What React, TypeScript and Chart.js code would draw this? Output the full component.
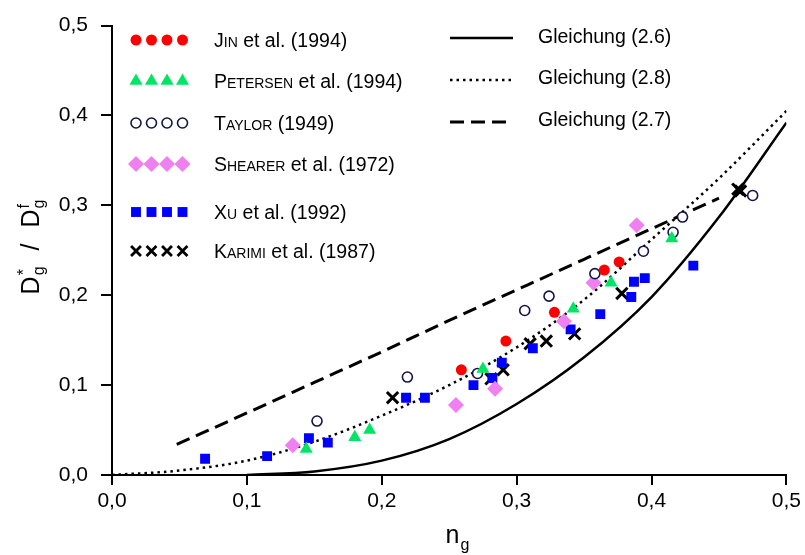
import React, { useEffect, useRef } from 'react';
import { Chart, registerables } from 'chart.js';

Chart.register(...registerables);

const FONT = '"Liberation Sans", Arial, Helvetica, sans-serif';

// ---- tick labels ----
const xTickLabels = ['0,0', '0,1', '0,2', '0,3', '0,4', '0,5'];
const yTickLabels = ['0,0', '0,1', '0,2', '0,3', '0,4', '0,5'];

// ---- legend texts ----
const seriesLabels = [
  'Jin et al. (1994)',
  'Petersen et al. (1994)',
  'Taylor (1949)',
  'Shearer et al. (1972)',
  'Xu et al. (1992)',
  'Karimi et al. (1987)',
];
const lineLabels = ['Gleichung (2.6)', 'Gleichung (2.8)', 'Gleichung (2.7)'];

// ---- measured data ----
const jinX = [0.259, 0.292, 0.328, 0.365, 0.376];
const jinY = [0.117, 0.149, 0.181, 0.228, 0.237];

const petersenX = [0.144, 0.18, 0.191, 0.275, 0.342, 0.37, 0.415];
const petersenY = [0.029, 0.042, 0.05, 0.118, 0.185, 0.214, 0.263];

const taylorX = [0.152, 0.219, 0.271, 0.306, 0.324, 0.358, 0.394, 0.416, 0.423, 0.475];
const taylorY = [0.06, 0.109, 0.113, 0.183, 0.199, 0.224, 0.249, 0.27, 0.287, 0.311];

const shearerX = [0.134, 0.255, 0.284, 0.335, 0.357, 0.389];
const shearerY = [0.033, 0.078, 0.096, 0.171, 0.214, 0.278];

const xuX = [0.069, 0.115, 0.146, 0.16, 0.218, 0.232, 0.268, 0.282, 0.289, 0.312, 0.34, 0.362, 0.385, 0.387, 0.395, 0.431];
const xuY = [0.018, 0.021, 0.041, 0.036, 0.086, 0.086, 0.1, 0.108, 0.125, 0.141, 0.162, 0.179, 0.198, 0.215, 0.219, 0.233];

const karimiX = [0.208, 0.281, 0.29, 0.31, 0.322, 0.343, 0.378, 0.464, 0.466];
const karimiY = [0.086, 0.107, 0.117, 0.146, 0.149, 0.157, 0.202, 0.318, 0.316];

// Gleichung (2.6) – solid
const eq26X = [0.1, 0.15, 0.2, 0.25, 0.3, 0.35, 0.4, 0.45, 0.5];
const eq26Y = [0.0, 0.004, 0.016, 0.04, 0.079, 0.131, 0.198, 0.287, 0.392];
// Gleichung (2.8) – dotted
const eq28X = [0.0, 0.05, 0.1, 0.15, 0.2, 0.25, 0.3, 0.35, 0.4, 0.45, 0.5];
const eq28Y = [0.0, 0.005, 0.016, 0.037, 0.066, 0.1, 0.142, 0.195, 0.262, 0.33, 0.405];
// Gleichung (2.7) – dashed
const eq27X = [0.048, 0.1, 0.15, 0.2, 0.25, 0.3, 0.35, 0.4, 0.45];
const eq27Y = [0.034, 0.069, 0.103, 0.137, 0.172, 0.206, 0.24, 0.274, 0.308];

const toPts = (xs: number[], ys: number[]) => xs.map((x, i) => ({ x, y: ys[i] }));

type MarkerStyle = { pointStyle: string; radius: number; fill: string; stroke: string; width: number };

const markerStyles: MarkerStyle[] = [
  { pointStyle: 'circle', radius: 5.5, fill: '#ff0000', stroke: '#ff0000', width: 0 },
  { pointStyle: 'triangle', radius: 7.5, fill: '#00e664', stroke: '#00e664', width: 0 },
  { pointStyle: 'circle', radius: 5, fill: '#ffffff', stroke: '#14144a', width: 1.6 },
  { pointStyle: 'rectRot', radius: 8, fill: '#f080f0', stroke: '#f080f0', width: 0 },
  { pointStyle: 'rect', radius: 7, fill: '#0000ff', stroke: '#0000ff', width: 0 },
  { pointStyle: 'crossRot', radius: 8, fill: '#000000', stroke: '#000000', width: 3 },
];

const seriesData = [
  toPts(jinX, jinY),
  toPts(petersenX, petersenY),
  toPts(taylorX, taylorY),
  toPts(shearerX, shearerY),
  toPts(xuX, xuY),
  toPts(karimiX, karimiY),
];

type LineStyle = { dash: number[]; width: number };
const lineStyles: LineStyle[] = [
  { dash: [], width: 2.5 },
  { dash: [2.5, 4], width: 2.5 },
  { dash: [14, 7], width: 3 },
];
const lineData = [toPts(eq26X, eq26Y), toPts(eq28X, eq28Y), toPts(eq27X, eq27Y)];

function drawMarker(ctx: CanvasRenderingContext2D, st: MarkerStyle, x: number, y: number) {
  const r = st.radius;
  ctx.save();
  ctx.fillStyle = st.fill;
  ctx.strokeStyle = st.stroke;
  ctx.lineWidth = st.width;
  ctx.beginPath();
  switch (st.pointStyle) {
    case 'circle':
      ctx.arc(x, y, r, 0, Math.PI * 2);
      break;
    case 'triangle': {
      for (let k = 0; k < 3; k++) {
        const a = (k * 2 * Math.PI) / 3;
        const px = x + Math.sin(a) * r;
        const py = y - Math.cos(a) * r;
        if (k === 0) ctx.moveTo(px, py);
        else ctx.lineTo(px, py);
      }
      ctx.closePath();
      break;
    }
    case 'rectRot':
      ctx.moveTo(x, y - r);
      ctx.lineTo(x + r, y);
      ctx.lineTo(x, y + r);
      ctx.lineTo(x - r, y);
      ctx.closePath();
      break;
    case 'rect': {
      const s = r * Math.SQRT1_2;
      ctx.rect(x - s, y - s, 2 * s, 2 * s);
      break;
    }
    case 'crossRot': {
      const s = r * Math.SQRT1_2;
      ctx.moveTo(x - s, y - s);
      ctx.lineTo(x + s, y + s);
      ctx.moveTo(x - s, y + s);
      ctx.lineTo(x + s, y - s);
      break;
    }
  }
  if (st.pointStyle !== 'crossRot') ctx.fill();
  if (st.width > 0) ctx.stroke();
  ctx.restore();
}

function drawSmallCapsLabel(ctx: CanvasRenderingContext2D, text: string, x: number, y: number, size: number) {
  const sp = text.indexOf(' ');
  const author = sp > 0 ? text.slice(0, sp) : text;
  const rest = sp > 0 ? text.slice(sp) : '';
  ctx.font = `${size}px ${FONT}`;
  ctx.fillText(author[0], x, y);
  x += ctx.measureText(author[0]).width;
  const up = author.slice(1).toUpperCase();
  ctx.font = `${Math.round(size * 0.72)}px ${FONT}`;
  ctx.fillText(up, x, y);
  x += ctx.measureText(up).width;
  ctx.font = `${size}px ${FONT}`;
  ctx.fillText(rest, x, y);
}

const decorPlugin = {
  id: 'decor',
  afterDraw(chart: any) {
    const ctx: CanvasRenderingContext2D = chart.ctx;
    ctx.save();
    ctx.fillStyle = '#000';
    ctx.textBaseline = 'alphabetic';
    ctx.textAlign = 'left';

    // left legend
    const rowY = [40, 81, 123, 164, 212, 251];
    const markerX = [136, 151.5, 167, 182.5];
    seriesLabels.forEach((label, i) => {
      const st = markerStyles[i];
      const legendSt = st.pointStyle === 'crossRot' ? { ...st, radius: 7, width: 2.8 } : st;
      markerX.forEach((mx) => drawMarker(ctx, legendSt, mx, rowY[i]));
      ctx.fillStyle = '#000';
      drawSmallCapsLabel(ctx, label, 214, rowY[i] + 7, 19.5);
    });

    // right legend
    const lineRowY = [38, 80, 122];
    const textRowY = [36, 77, 119];
    lineLabels.forEach((label, i) => {
      const ls = lineStyles[i];
      ctx.save();
      ctx.strokeStyle = '#000';
      ctx.lineWidth = ls.width;
      ctx.setLineDash(ls.dash);
      ctx.beginPath();
      ctx.moveTo(450, lineRowY[i]);
      ctx.lineTo(513, lineRowY[i]);
      ctx.stroke();
      ctx.restore();
      ctx.font = `19.5px ${FONT}`;
      ctx.fillStyle = '#000';
      ctx.fillText(label, 538, textRowY[i] + 7);
    });

    // x axis title n_g
    ctx.font = `25px ${FONT}`;
    const nW = ctx.measureText('n').width;
    ctx.font = `16px ${FONT}`;
    const gW = ctx.measureText('g').width;
    const xs = 457 - (nW + gW) / 2;
    ctx.font = `25px ${FONT}`;
    ctx.fillText('n', xs, 543);
    ctx.font = `16px ${FONT}`;
    ctx.fillText('g', xs + nW + 1, 550);

    // y axis title D*_g / D^f_g (rotated)
    ctx.save();
    ctx.translate(30, 247);
    ctx.rotate(-Math.PI / 2);
    const big = `25px ${FONT}`;
    const small = `16px ${FONT}`;
    ctx.font = big;
    const dW = ctx.measureText('D').width;
    const slW = ctx.measureText('/').width;
    ctx.font = small;
    const g2 = ctx.measureText('g').width;
    const gap = 16;
    const total = dW + 1 + g2 + gap + slW + gap + dW + 1 + g2;
    let cx = -total / 2;
    const base = 9;
    ctx.font = big;
    ctx.fillText('D', cx, base);
    cx += dW + 1;
    ctx.font = small;
    ctx.fillText('*', cx, base - 10);
    ctx.fillText('g', cx, base + 5);
    cx += g2 + gap;
    ctx.font = big;
    ctx.fillText('/', cx, base);
    cx += slW + gap;
    ctx.fillText('D', cx, base);
    cx += dW + 1;
    ctx.font = small;
    ctx.fillText('f', cx, base - 10);
    ctx.fillText('g', cx, base + 5);
    ctx.restore();

    ctx.restore();
  },
};

export default function App() {
  const ref = useRef<HTMLCanvasElement | null>(null);

  useEffect(() => {
    document.body.style.margin = '0';
    if (!ref.current) return;

    const scatterSets = seriesData.map((data, i) => {
      const st = markerStyles[i];
      return {
        label: seriesLabels[i],
        data,
        showLine: false,
        pointStyle: st.pointStyle,
        pointRadius: st.radius,
        pointHoverRadius: st.radius,
        pointBackgroundColor: st.fill,
        pointBorderColor: st.stroke,
        pointBorderWidth: st.width,
        order: 0,
      };
    });

    const lineSets = lineData.map((data, i) => ({
      label: lineLabels[i],
      data,
      showLine: true,
      pointRadius: 0,
      borderColor: '#000',
      borderWidth: lineStyles[i].width,
      borderDash: lineStyles[i].dash,
      borderCapStyle: 'butt',
      cubicInterpolationMode: 'monotone',
      fill: false,
      order: 1,
    }));

    const tickFont = { family: FONT, size: 21 };

    const chart = new Chart(ref.current, {
      type: 'scatter',
      data: { datasets: [...scatterSets, ...lineSets] as any },
      options: {
        animation: false,
        responsive: false,
        maintainAspectRatio: false,
        layout: { padding: { top: 22, right: 12, left: 0, bottom: 0 } },
        plugins: { legend: { display: false }, tooltip: { enabled: false } },
        scales: {
          x: {
            type: 'linear',
            min: 0,
            max: 0.5,
            ticks: {
              stepSize: 0.1,
              callback: (v: any) => xTickLabels[Math.round(Number(v) * 10)],
              font: tickFont,
              color: '#000',
              padding: 4,
              maxRotation: 0,
            },
            grid: { drawOnChartArea: false, drawTicks: true, tickLength: 10, color: '#000', lineWidth: 2 },
            border: { color: '#000', width: 2 },
            afterFit: (s: any) => {
              s.height = 80;
            },
          },
          y: {
            type: 'linear',
            min: 0,
            max: 0.5,
            ticks: {
              stepSize: 0.1,
              callback: (v: any) => yTickLabels[Math.round(Number(v) * 10)],
              font: tickFont,
              color: '#000',
              padding: 13,
            },
            grid: { drawOnChartArea: false, drawTicks: true, tickLength: 11, color: '#000', lineWidth: 2 },
            border: { color: '#000', width: 2 },
            afterFit: (s: any) => {
              s.width = 112;
            },
          },
        },
      } as any,
      plugins: [decorPlugin],
    });

    return () => chart.destroy();
  }, []);

  return (
    <div style={{ width: 805, height: 555, position: 'relative', background: '#fff' }}>
      <canvas ref={ref} width={805} height={555} style={{ display: 'block' }} />
    </div>
  );
}
